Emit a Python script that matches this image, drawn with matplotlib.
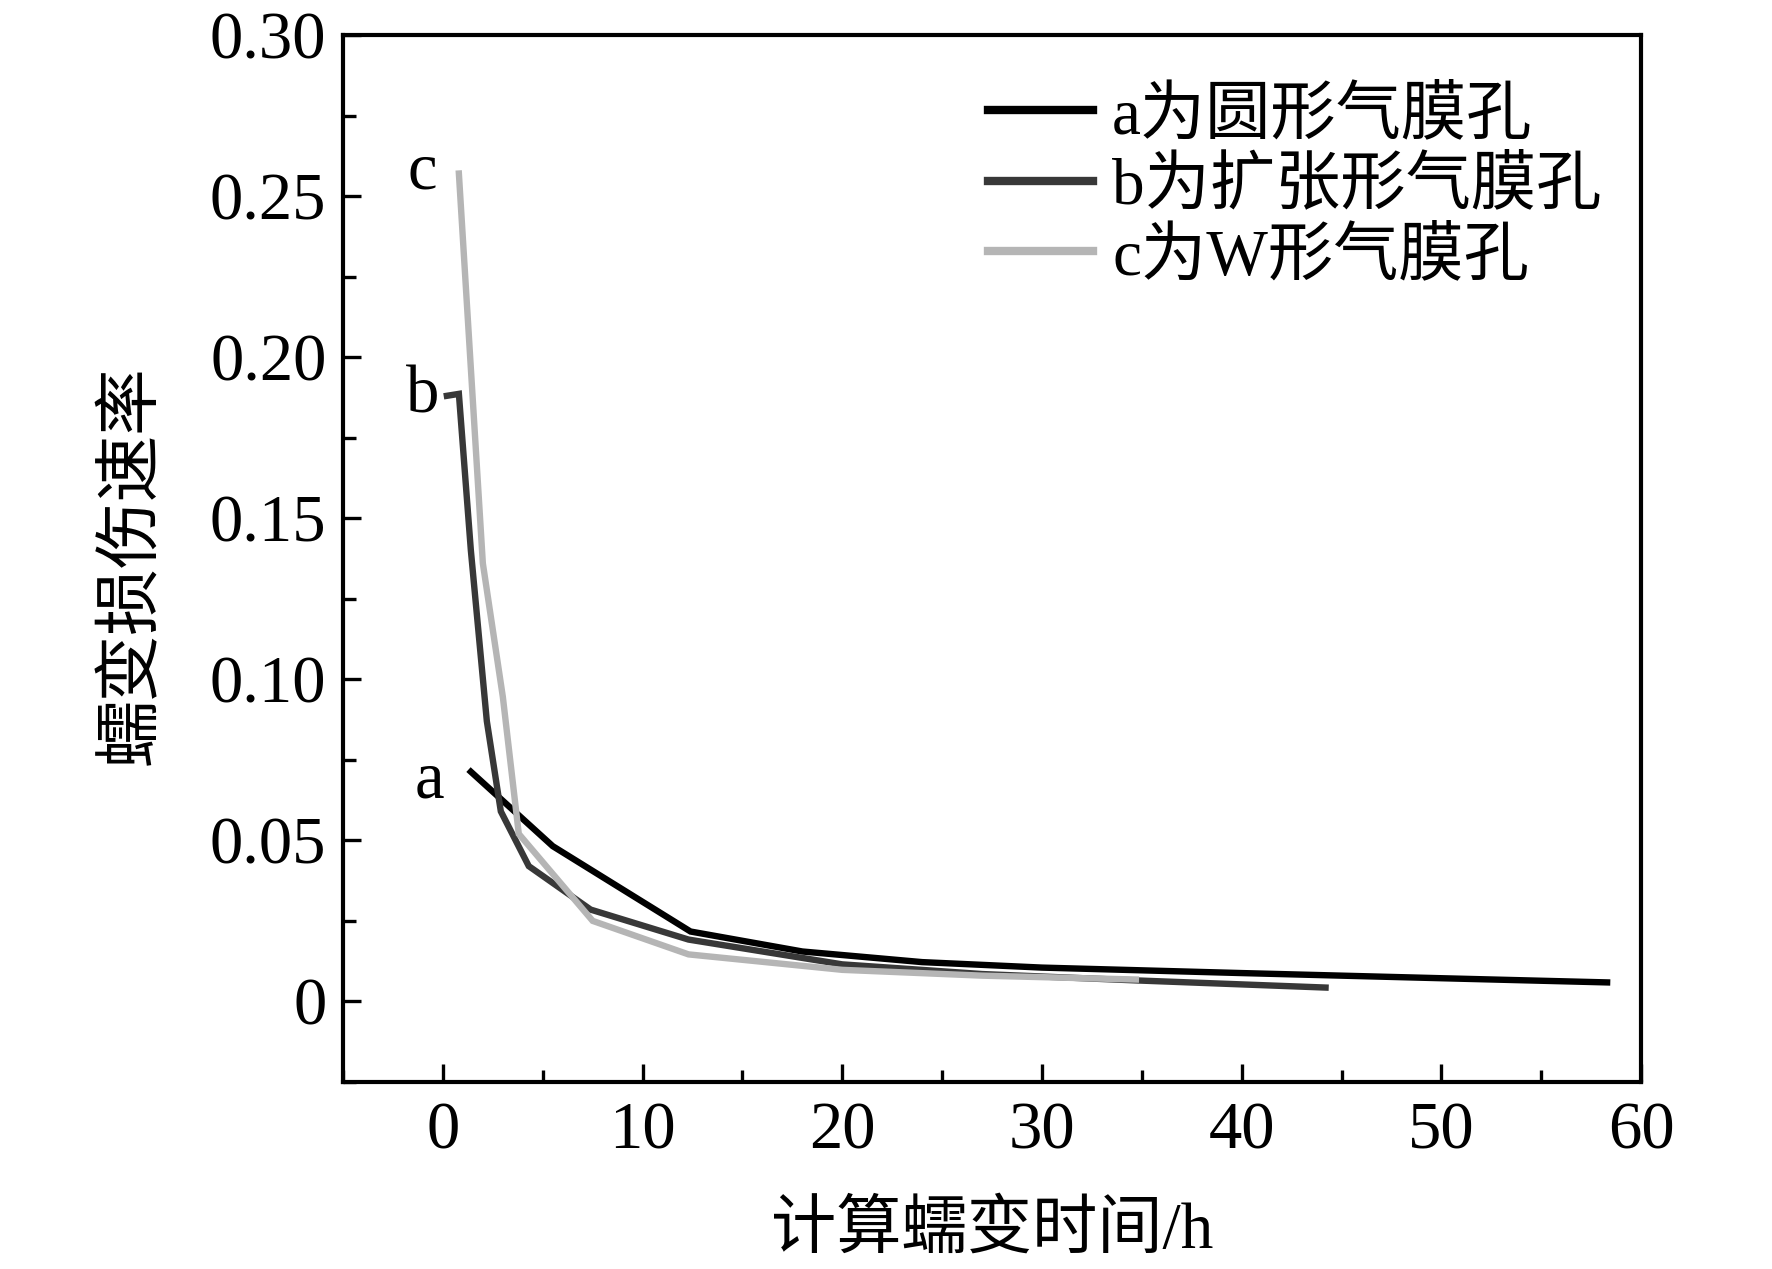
import matplotlib
matplotlib.use("Agg")
import matplotlib.pyplot as plt
from matplotlib.ticker import MultipleLocator, FuncFormatter

plt.rcParams['font.family'] = ['Liberation Serif', 'Noto Sans CJK SC', 'DejaVu Sans']

# ---- data ----
a_x = [1.4, 5.5, 12.4, 18.0, 24.0, 30.0, 40.0, 50.0, 58.3]
a_y = [0.0713, 0.0482, 0.0217, 0.0155, 0.0122, 0.0105, 0.0088, 0.0072, 0.0059]

b_x = [0.2, 0.8, 1.4, 2.2, 2.9, 4.3, 7.4, 12.3, 20.0, 27.0, 34.8, 44.2]
b_y = [0.188, 0.1886, 0.140, 0.087, 0.059, 0.042, 0.0285, 0.0192, 0.0115, 0.0085, 0.0065, 0.0043]

c_x = [0.8, 2.0, 3.0, 3.8, 7.5, 12.3, 20.0, 27.0, 34.7]
c_y = [0.257, 0.136, 0.0946, 0.052, 0.025, 0.0146, 0.0098, 0.0080, 0.0068]

series_labels = ['a为圆形气膜孔', 'b为扩张形气膜孔', 'c为W形气膜孔']
series_colors = ['#000000', '#383838', '#b5b5b5']
curve_tags = ['a', 'b', 'c']
tag_x = [-0.65, -1.0, -1.05]
tag_y = [0.0633, 0.1827, 0.2525]

x_label = '计算蠕变时间/h'
y_label = '蠕变损伤速率'

fig = plt.figure(figsize=(17.72, 12.69), dpi=100)
ax = fig.add_axes([0.1936, 0.1474, 0.7325, 0.8250])

lw = 4.6
for xs, ys, col, lab in zip([a_x, b_x, c_x], [a_y, b_y, c_y], series_colors, series_labels):
    ax.plot(xs, ys, color=col, lw=lw, label=lab, solid_joinstyle='miter')

for t, tx, ty in zip(curve_tags, tag_x, tag_y):
    ax.text(tx, ty, t, fontsize=48, ha='center', va='baseline', family='Liberation Serif')

ax.set_xlim(-5, 60)
ax.set_ylim(-0.025, 0.30)
ax.xaxis.set_major_locator(MultipleLocator(10))
ax.xaxis.set_minor_locator(MultipleLocator(5))
ax.yaxis.set_major_locator(MultipleLocator(0.05))
ax.yaxis.set_minor_locator(MultipleLocator(0.025))
ax.yaxis.set_major_formatter(FuncFormatter(lambda v, p: '0' if abs(v) < 1e-9 else f'{v:.2f}'))

ax.tick_params(which='both', direction='in', top=False, right=False, width=2.4, labelsize=48)
ax.tick_params(which='major', length=13)
ax.tick_params(which='minor', length=9)
ax.tick_params(axis='x', which='major', pad=14)
ax.tick_params(axis='y', which='major', pad=12)
for s in ax.spines.values():
    s.set_linewidth(3.0)

ax.set_xlabel(x_label, fontsize=47, va='center')
ax.xaxis.set_label_coords(0.5, -0.143)
ax.set_ylabel(y_label, fontsize=48, va='center')
ax.yaxis.set_label_coords(-0.162, 0.494)

leg = ax.legend(loc='upper left', bbox_to_anchor=(0.497, 0.951), frameon=False,
                fontsize=47, handlelength=1.6, handletextpad=0.3, labelspacing=0.15,
                borderpad=0, borderaxespad=0)
for h in leg.get_lines():
    h.set_linewidth(6.0)

fig.savefig('out.png', dpi=100)
